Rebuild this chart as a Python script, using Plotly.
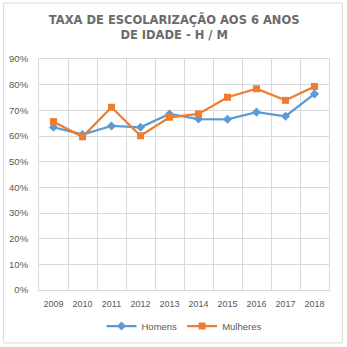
import plotly.graph_objects as go

anos = ["2009", "2010", "2011", "2012", "2013", "2014", "2015", "2016", "2017", "2018"]
homens = [0.634, 0.606, 0.639, 0.634, 0.686, 0.666, 0.665, 0.693, 0.677, 0.764]
mulheres = [0.656, 0.597, 0.712, 0.601, 0.673, 0.686, 0.751, 0.784, 0.739, 0.793]

grid = "#d9d9d9"
txt = "#595959"

fig = go.Figure()
fig.add_trace(go.Scatter(x=anos, y=homens, name="Homens", mode="lines+markers",
                         line=dict(color="#5b9bd5", width=2.25),
                         marker=dict(symbol="diamond", size=7, color="#5b9bd5")))
fig.add_trace(go.Scatter(x=anos, y=mulheres, name="Mulheres", mode="lines+markers",
                         line=dict(color="#ed7d31", width=2.25),
                         marker=dict(symbol="square", size=7, color="#ed7d31")))

fig.update_layout(
    width=347, height=347,
    margin=dict(l=38.5, r=17.5, t=59, b=57, autoexpand=False),
    paper_bgcolor="white", plot_bgcolor="white",
    font=dict(family="Liberation Sans, Arial", color=txt, size=9),
    title=dict(text="TAXA DE ESCOLARIZAÇÃO AOS 6 ANOS<br>DE IDADE - H / M",
               x=0.502, xanchor="center", y=0.93, yanchor="top",
               font=dict(family="DejaVu Sans", size=11.5, color="#6b6b6b", weight="bold")),
    xaxis=dict(type="category", range=[-0.5, 9.5], tickson="boundaries",
               showgrid=True, gridcolor=grid, gridwidth=1,
               showline=True, linecolor=grid, linewidth=1, mirror=True,
               ticks="", tickfont=dict(size=9, color=txt), ticklabelstandoff=5,
               fixedrange=True),
    yaxis=dict(range=[0, 0.9], dtick=0.1, tickformat=".0%",
               showgrid=True, gridcolor=grid, gridwidth=1,
               showline=True, linecolor=grid, linewidth=1, mirror=True,
               zeroline=False, ticks="", ticklabelstandoff=8,
               tickfont=dict(size=9.5, color=txt), fixedrange=True),
    legend=dict(orientation="h", x=0.5, xanchor="center", y=-0.156, yanchor="middle",
                font=dict(size=9.5, color=txt), itemwidth=30, tracegroupgap=0),
    showlegend=True,
    shapes=[dict(type="rect", xref="paper", yref="paper",
                 x0=-0.122, x1=1.046, y0=-0.229, y1=1.242,
                 line=dict(color=grid, width=1), fillcolor="rgba(0,0,0,0)", layer="below")],
)

fig.write_html("out.html")
